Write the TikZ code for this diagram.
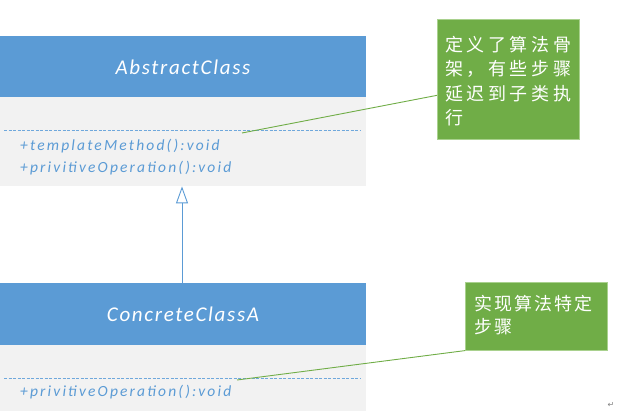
\documentclass[tikz,border=0pt]{standalone}
\usepackage{fontspec}
\setmainfont{Carlito}
\newfontfamily\cjkA[LetterSpace=20]{Noto Sans CJK SC}
\newfontfamily\cjkB[LetterSpace=12]{Noto Sans CJK SC}
\newfontfamily\umlfont[LetterSpace=14]{Carlito}
\newfontfamily\titlefont[LetterSpace=8]{Carlito}
\newfontfamily\symfont{DejaVu Sans}
\usetikzlibrary{arrows.meta,calc}
\definecolor{hdr}{HTML}{5B9BD5}
\definecolor{bodyc}{HTML}{F2F2F2}
\definecolor{notec}{HTML}{70AD47}
\definecolor{noteb}{HTML}{A9D18E}
\definecolor{dashc}{HTML}{6FA8DC}
\tikzset{
  hdrbox/.style={fill=hdr, draw=none, anchor=north west, minimum width=366pt, inner sep=0pt},
  titletext/.style={text=white, inner sep=0pt, font=\titlefont\itshape\fontsize{21}{24}\selectfont},
  bodybox/.style={fill=bodyc, draw=none, anchor=north west, minimum width=366pt, inner sep=0pt},
  member/.style={anchor=west, inner sep=0pt, text=hdr, font=\umlfont\itshape\fontsize{15.5}{18}\selectfont},
  sepline/.style={dashc, line width=0.8pt, dash pattern=on 3pt off 1.5pt},
  notebox/.style={fill=notec, draw=noteb, line width=0.6pt, anchor=north west, inner sep=0pt},
  notetext/.style={anchor=north west, inner sep=0pt, text=white, align=left},
  noteline/.style={notec, line width=0.9pt},
  genarrow/.style={hdr, line width=0.9pt, -{Triangle[open, length=17pt, width=12pt]}}
}
\begin{document}
\begin{tikzpicture}[x=1pt,y=-1pt]
\useasboundingbox (0,0) rectangle (624,411);
% AbstractClass
\node[hdrbox, minimum height=61pt] (h1) at (0,36) {};
\node[titletext] (t1) at (183,67) {AbstractClass};
\node[bodybox, minimum height=89pt] (b1) at (0,97) {};
\coordinate (d1a) at (4,130);
\coordinate (d1b) at (361,130);
\draw[sepline] (d1a) -- (d1b);
\node[member] (m1) at (20,146) {+templateMethod():void};
\node[member] (m2) at (20,168) {+privitiveOperation():void};
% ConcreteClassA
\node[hdrbox, minimum height=62pt] (h2) at (0,283) {};
\node[titletext] (t2) at (183,314) {ConcreteClassA};
\node[bodybox, minimum height=66pt] (b2) at (0,345) {};
\coordinate (d2a) at (4,378);
\coordinate (d2b) at (361,378);
\draw[sepline] (d2a) -- (d2b);
\node[member] (m3) at (20,392) {+privitiveOperation():void};
% generalization
\draw[genarrow] (h2.north -| 182,0) -- (b1.south -| 182,0);
% notes
\node[notebox, minimum width=142pt, minimum height=120pt] (n1) at (437,19) {};
\node[notetext, font=\cjkA\fontsize{18}{24.5}\selectfont] (n1t) at (445,36) {定义了算法骨\\架，有些步骤\\延迟到子类执\\行};
\node[notebox, minimum width=142pt, minimum height=68pt] (n2) at (465,282) {};
\node[notetext, font=\cjkB\fontsize{18}{23}\selectfont] (n2t) at (474,295) {实现算法特定\\步骤};
\coordinate (c1) at (242,133);
\coordinate (c2) at (237,380);
\draw[noteline] (c1) -- ($(n1.north west)!0.633!(n1.south west)$);
\draw[noteline] (c2) -- (n2.south west);
% paragraph mark
\node[inner sep=0pt, text=gray, font=\symfont\fontsize{8}{9}\selectfont] (pm) at (611,405) {↵};
\end{tikzpicture}
\end{document}
